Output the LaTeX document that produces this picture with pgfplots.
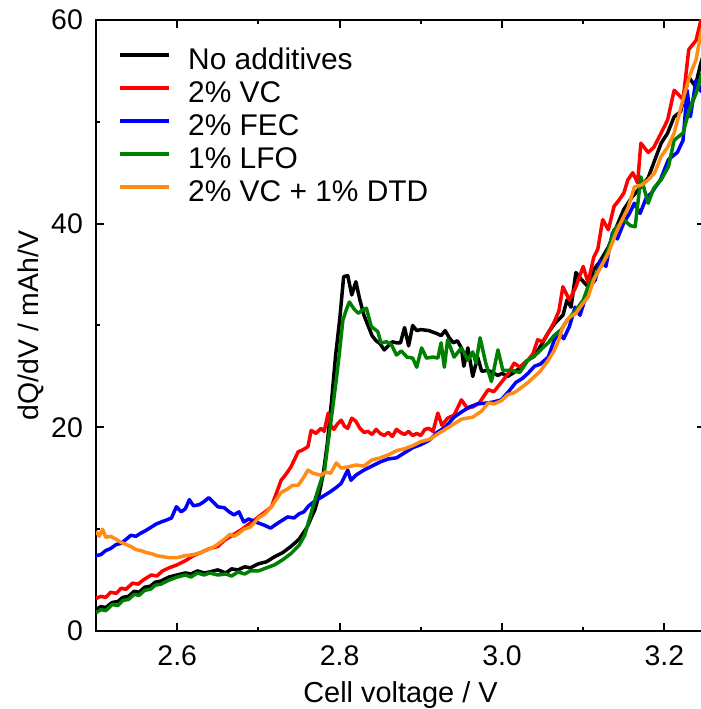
\documentclass[border=0pt]{standalone}
\usepackage{fontspec}
\setmainfont{Liberation Sans}
\usepackage{pgfplots}
\pgfplotsset{compat=1.18}
\definecolor{cgreen}{RGB}{0,128,0}
\definecolor{corange}{RGB}{255,140,20}
\begin{document}
\begin{tikzpicture}
\begin{axis}[
  scale only axis,
  width=609bp, height=611bp,
  xmin=2.5, xmax=3.25, ymin=0, ymax=60,
  xtick={2.6,2.8,3.0,3.2}, ytick={0,20,40,60},
  minor x tick num=1, minor y tick num=1,
  tick align=inside,
  major tick length=8bp, minor tick length=4bp,
  axis line style={line width=2bp},
  every tick/.style={black, line width=2bp},
  /pgf/number format/assume math mode=true,
  ticklabel style={font=\fontsize{28.5}{34}\selectfont, inner sep=0pt},
  xticklabel style={/pgf/number format/fixed, /pgf/number format/fixed zerofill, /pgf/number format/precision=1, yshift=-14bp},
  yticklabel style={xshift=-13bp},
  xlabel={Cell voltage / V},
  ylabel={dQ/dV / mAh/V},
  xlabel style={font=\fontsize{29}{34}\selectfont, at={(axis description cs:0.5,-0.1178)}, anchor=base, inner sep=0pt},
  ylabel style={font=\fontsize{28.5}{34}\selectfont, at={(axis description cs:-0.0945,0.5)}, anchor=base, inner sep=0pt},
  legend style={draw=none, fill=none, at={(axis description cs:0.0362,0.9525)}, anchor=north west,
    font=\fontsize{30}{34}\selectfont, row sep=7bp, column sep=17bp, inner sep=0pt,
    nodes={inner sep=0pt, text height=20bp, text depth=6bp}},
  legend cell align=left,
  legend image code/.code={\draw[#1, line width=4bp] (0bp,7bp) -- (49bp,7bp);},
  every axis plot/.append style={line width=3.5bp, line join=round},
]
\addplot[black] coordinates {
(2.500,2.1)(2.506,2.4)(2.512,2.3)(2.520,2.8)(2.527,2.9)(2.533,3.3)(2.540,3.4)(2.547,3.9)(2.553,3.8)(2.560,4.3)(2.567,4.4)(2.573,4.8)(2.580,4.9)(2.590,5.3)
(2.600,5.5)(2.610,5.7)(2.617,5.6)(2.625,5.9)(2.633,5.7)(2.640,5.8)(2.650,6.0)(2.660,5.7)(2.667,6.1)(2.675,6.0)(2.683,6.3)(2.690,6.2)
(2.700,6.6)(2.710,6.8)(2.720,7.3)(2.730,7.7)(2.740,8.3)(2.750,9.0)(2.760,10.2)(2.770,12.0)(2.775,13.5)(2.780,15.5)
(2.785,18.5)(2.790,22.5)(2.795,27.0)(2.800,30.5)(2.805,34.8)(2.810,34.9)(2.815,33.0)(2.820,34.3)(2.825,32.5)(2.830,31.0)
(2.835,30.0)(2.840,29.0)(2.845,28.5)(2.850,28.2)(2.855,27.6)(2.860,28.0)(2.865,28.4)(2.870,28.3)(2.875,28.3)(2.880,29.8)
(2.885,28.0)(2.890,30.0)(2.895,29.5)(2.900,29.6)(2.910,29.5)(2.920,29.2)(2.925,29.0)(2.930,29.5)(2.935,28.8)(2.940,28.3)
(2.945,28.5)(2.950,27.8)(2.953,26.0)(2.958,27.8)(2.964,25.0)(2.970,26.9)(2.975,25.5)(2.983,25.6)(2.990,25.3)(2.995,25.1)
(3.000,25.3)(3.007,25.0)(3.015,25.4)(3.020,25.7)(3.030,26.5)(3.040,27.0)(3.050,28.3)(3.057,29.3)(3.065,30.2)(3.075,31.0)
(3.080,32.5)(3.085,31.8)(3.091,35.2)(3.098,34.5)(3.106,33.8)(3.113,35.5)(3.120,36.2)(3.131,37.7)(3.140,39.5)(3.150,41.4)
(3.160,42.6)(3.171,43.6)(3.180,44.5)(3.187,46.0)(3.196,47.9)(3.204,48.9)(3.212,50.5)(3.220,51.0)(3.230,54.4)(3.238,53.5)
(3.245,55.8)(3.250,57.0)};
\addlegendentry{No additives}
\addplot[red] coordinates {
(2.500,3.2)(2.506,3.4)(2.512,3.3)(2.518,3.8)(2.525,3.7)(2.531,4.2)(2.537,4.1)(2.545,4.7)(2.552,4.6)(2.558,5.0)(2.568,5.5)(2.575,5.4)(2.582,5.9)(2.590,6.2)
(2.600,6.5)(2.610,6.9)(2.620,7.4)(2.629,7.7)(2.640,8.1)(2.650,8.3)(2.658,8.9)(2.670,9.5)(2.680,10.0)(2.690,10.6)
(2.700,11.2)(2.710,11.8)(2.716,12.2)(2.722,13.5)(2.728,14.8)(2.734,15.4)(2.740,16.1)(2.749,17.6)(2.755,17.8)(2.761,18.1)
(2.765,19.7)(2.771,19.4)(2.777,19.9)(2.781,19.6)(2.786,21.4)(2.789,20.2)(2.793,19.8)(2.797,20.3)(2.802,20.7)(2.806,20.1)
(2.810,19.9)(2.815,20.9)(2.820,20.6)(2.825,19.9)(2.830,19.5)(2.835,19.6)(2.840,19.3)(2.845,19.8)(2.850,19.4)(2.855,19.2)
(2.860,19.5)(2.865,19.1)(2.870,19.8)(2.875,19.5)(2.880,19.3)(2.885,19.6)(2.890,19.2)(2.895,19.4)(2.900,19.2)(2.905,19.8)
(2.910,19.9)(2.915,19.6)(2.921,21.4)(2.926,20.2)(2.933,20.9)(2.941,21.2)(2.950,22.7)(2.957,21.9)(2.964,22.0)(2.972,22.4)
(2.983,23.7)(2.990,23.5)(2.999,24.4)(3.007,25.2)(3.015,26.3)(3.022,25.9)(3.032,26.6)(3.038,27.2)(3.044,28.6)(3.050,28.4)
(3.057,29.3)(3.064,30.3)(3.070,31.4)(3.075,33.8)(3.083,32.5)(3.091,33.8)(3.100,35.8)(3.106,34.2)(3.113,36.7)(3.118,37.5)
(3.124,40.4)(3.131,39.4)(3.138,41.7)(3.144,42.3)(3.150,43.0)(3.155,44.3)(3.161,45.0)(3.167,44.0)(3.171,47.9)(3.180,47.0)
(3.187,47.5)(3.196,48.9)(3.204,50.2)(3.212,53.1)(3.223,52.2)(3.230,57.1)(3.239,58.0)(3.245,60.0)(3.250,61.0)};
\addlegendentry{2\% VC}
\addplot[blue] coordinates {
(2.500,7.4)(2.506,7.5)(2.512,7.9)(2.518,8.1)(2.525,8.5)(2.531,8.6)(2.537,9.0)(2.543,9.4)(2.549,9.3)(2.555,9.6)
(2.562,9.9)(2.568,10.2)(2.574,10.5)(2.580,10.7)(2.587,10.9)(2.593,11.1)(2.599,12.2)(2.605,11.7)(2.610,12.0)(2.615,12.9)
(2.620,12.3)(2.627,12.4)(2.633,12.7)(2.639,13.1)(2.645,12.6)(2.650,12.2)(2.658,12.1)(2.664,11.7)(2.670,11.4)(2.676,11.7)
(2.682,10.7)(2.688,11.0)(2.694,10.8)(2.700,10.6)(2.707,10.4)(2.715,10.1)(2.724,10.6)(2.730,10.9)(2.736,11.2)(2.744,11.1)
(2.750,11.5)(2.756,11.7)(2.762,12.3)(2.767,12.6)(2.772,12.9)(2.777,13.1)(2.783,13.4)(2.789,13.7)(2.796,14.1)(2.802,14.5)
(2.810,15.8)(2.814,14.8)(2.820,15.3)(2.830,15.8)(2.840,16.2)(2.850,16.6)(2.860,16.9)(2.870,17.0)(2.880,17.5)(2.890,18.0)
(2.900,18.3)(2.910,18.7)(2.920,19.5)(2.930,20.0)(2.941,21.0)(2.950,21.5)(2.960,22.0)(2.970,22.3)(2.983,22.4)(2.990,22.5)
(2.999,22.7)(3.008,23.5)(3.017,24.4)(3.025,24.8)(3.032,25.3)(3.040,26.0)(3.047,26.2)(3.057,26.9)(3.064,28.5)(3.070,29.3)
(3.076,28.7)(3.083,29.9)(3.090,31.8)(3.096,31.0)(3.102,32.5)(3.108,33.8)(3.115,34.5)(3.121,36.4)(3.128,35.8)(3.136,39.1)
(3.142,38.5)(3.150,40.1)(3.157,41.0)(3.163,42.0)(3.170,41.0)(3.178,42.6)(3.184,43.0)(3.195,44.3)(3.205,46.3)(3.216,47.0)
(3.223,48.2)(3.228,53.1)(3.232,50.5)(3.239,54.1)(3.245,53.0)(3.250,54.5)};
\addlegendentry{2\% FEC}
\addplot[cgreen] coordinates {
(2.500,1.8)(2.506,2.1)(2.512,2.0)(2.520,2.6)(2.527,2.5)(2.533,3.0)(2.540,3.1)(2.547,3.6)(2.553,3.5)(2.560,4.0)(2.567,4.1)(2.573,4.5)(2.580,4.6)(2.590,5.0)
(2.600,5.3)(2.610,5.5)(2.617,5.3)(2.625,5.7)(2.633,5.5)(2.640,5.7)(2.650,5.5)(2.660,5.6)(2.667,5.4)(2.675,5.8)(2.683,5.6)(2.690,5.9)
(2.700,5.9)(2.710,6.2)(2.720,6.5)(2.730,7.0)(2.740,7.6)(2.750,8.4)(2.757,9.4)(2.765,11.6)(2.772,13.5)(2.778,15.0)
(2.781,15.5)(2.785,18.0)(2.789,20.4)(2.796,24.7)(2.800,27.5)(2.804,30.5)(2.808,31.5)(2.812,32.3)(2.818,31.6)(2.823,31.2)
(2.828,31.5)(2.833,31.7)(2.839,29.9)(2.847,29.4)(2.851,28.3)(2.858,28.4)(2.864,28.1)(2.870,27.1)(2.876,27.5)(2.883,26.9)
(2.890,26.8)(2.895,25.9)(2.901,27.8)(2.907,26.8)(2.915,26.9)(2.921,26.8)(2.925,28.3)(2.929,25.9)(2.933,28.6)(2.941,26.9)
(2.950,27.8)(2.958,26.6)(2.964,27.4)(2.968,26.3)(2.973,28.8)(2.980,26.3)(2.987,24.5)(2.995,27.6)(3.001,25.6)(3.010,25.6)
(3.022,25.4)(3.032,26.6)(3.044,27.3)(3.050,27.8)(3.057,28.3)(3.064,29.0)(3.073,29.6)(3.080,30.5)(3.091,31.5)(3.100,32.5)
(3.106,33.8)(3.114,34.8)(3.124,36.1)(3.131,37.5)(3.138,39.4)(3.150,40.4)(3.158,39.8)(3.164,39.7)(3.171,44.6)(3.180,42.0)
(3.187,43.5)(3.196,44.3)(3.205,45.6)(3.212,48.2)(3.223,48.9)(3.230,51.0)(3.239,52.8)(3.245,54.4)(3.250,55.5)};
\addlegendentry{1\% LFO}
\addplot[corange] coordinates {
(2.500,9.8)(2.504,9.3)(2.508,10.0)(2.512,9.2)(2.518,9.3)(2.525,9.0)(2.531,8.7)(2.537,8.5)(2.543,8.3)(2.549,8.0)
(2.555,7.9)(2.562,7.7)(2.568,7.6)(2.575,7.4)(2.582,7.3)(2.590,7.2)(2.600,7.2)(2.610,7.4)(2.620,7.5)(2.629,7.7)
(2.638,8.0)(2.646,8.3)(2.658,9.0)(2.665,9.5)(2.670,9.3)(2.676,9.6)(2.682,10.0)(2.690,10.2)(2.700,11.1)(2.708,11.5)
(2.716,12.2)(2.722,12.9)(2.728,13.6)(2.735,13.9)(2.742,14.3)(2.749,14.3)(2.755,15.0)(2.761,15.8)(2.767,15.5)(2.777,15.3)
(2.783,15.6)(2.789,15.5)(2.796,16.5)(2.802,16.0)(2.810,16.1)(2.820,16.3)(2.830,16.2)(2.840,16.8)(2.850,17.0)(2.860,17.3)
(2.870,17.7)(2.880,17.9)(2.890,18.2)(2.900,18.6)(2.910,18.8)(2.920,19.3)(2.930,19.8)(2.940,20.3)(2.950,20.8)(2.964,21.0)
(2.975,21.6)(2.983,22.4)(2.990,22.3)(2.999,22.6)(3.007,23.2)(3.015,23.4)(3.022,23.8)(3.032,24.4)(3.040,25.0)(3.047,25.5)
(3.057,26.6)(3.064,27.5)(3.070,28.6)(3.075,29.9)(3.083,30.8)(3.091,31.2)(3.098,32.0)(3.106,32.8)(3.113,34.5)(3.120,35.5)
(3.131,37.1)(3.140,39.0)(3.148,40.4)(3.155,41.5)(3.163,43.6)(3.172,43.8)(3.180,44.3)(3.188,45.0)(3.196,46.6)(3.204,47.5)
(3.212,48.9)(3.223,52.2)(3.231,54.5)(3.239,56.1)(3.245,58.7)(3.250,60.0)};
\addlegendentry{2\% VC + 1\% DTD}
\coordinate (bl) at (rel axis cs:0,0);
\coordinate (tr) at (rel axis cs:1,1);
\end{axis}
\pgfresetboundingbox
\useasboundingbox ([xshift=-96bp,yshift=-78bp]bl) rectangle ([xshift=-4bp,yshift=20bp]tr);
\end{tikzpicture}
\end{document}
